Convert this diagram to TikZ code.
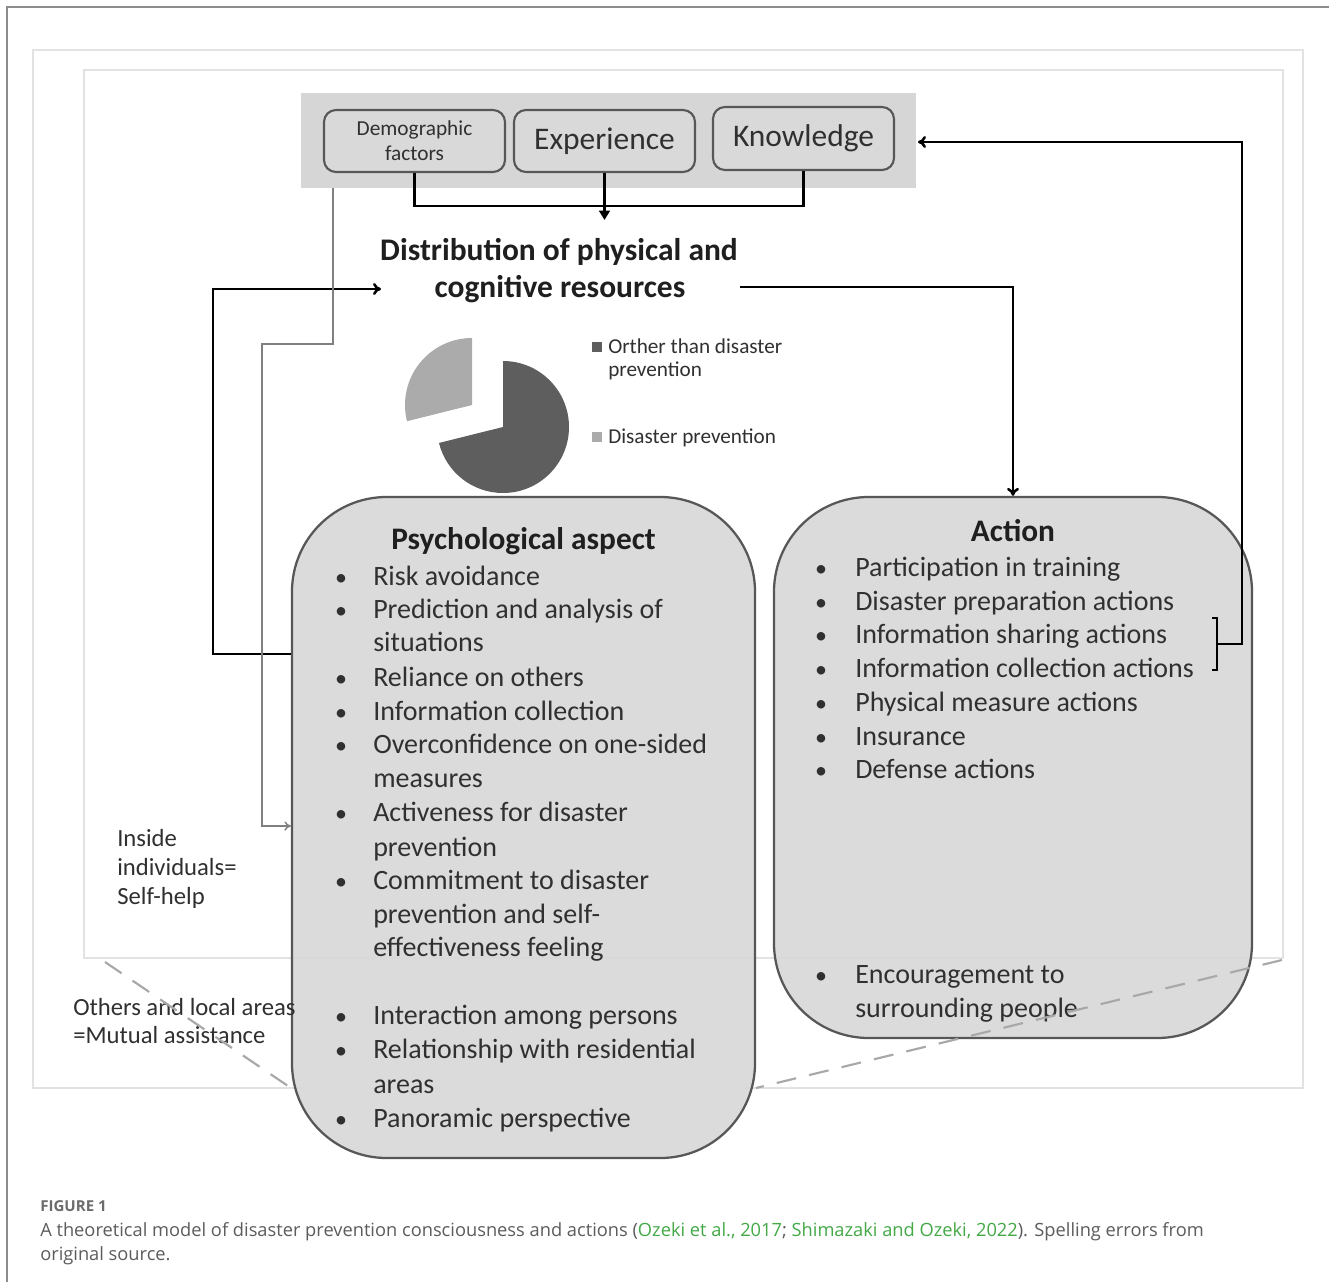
\documentclass[tikz,border=0pt]{standalone}
\usepackage{fontspec}
\setmainfont{Carlito}
\newfontfamily\capfont{Open Sans}
\usetikzlibrary{arrows.meta}
\definecolor{framegray}{HTML}{E2E2E2}
\definecolor{boxfill}{HTML}{D9D9D9}
\definecolor{bandfill}{HTML}{D6D6D6}
\definecolor{edgegray}{HTML}{575757}
\definecolor{linegray}{HTML}{808080}
\definecolor{piedark}{HTML}{5E5E5E}
\definecolor{pielight}{HTML}{ABABAB}
\definecolor{txtgray}{HTML}{303030}
\definecolor{capgray}{HTML}{5C5C5C}
\definecolor{refgreen}{HTML}{43A947}
\definecolor{dashgray}{HTML}{A8A8A8}
\begin{document}
\begin{tikzpicture}[
 x=0.75pt,y=-0.75pt,
 blk/.style={line width=1.9pt},
 gry/.style={line width=1.1pt,linegray},
 smallbox/.style={draw=edgegray,line width=1.6pt,fill=boxfill,rounded corners=9pt,
   minimum width=135.75pt,minimum height=46.5pt,inner sep=2pt,align=center,text=txtgray},
 bigbox/.style={draw=edgegray,line width=1.7pt,fill=boxfill,fill opacity=0.92,rounded corners=71pt},
 itm/.style={anchor=base west,inner sep=0pt,font=\fontsize{21}{24}\selectfont,text=txtgray},
 dot/.style={anchor=base,inner sep=0pt,font=\fontsize{18}{22}\selectfont,text=txtgray},
 lbl/.style={anchor=base west,inner sep=0pt,font=\fontsize{18.5}{22}\selectfont,text=txtgray},
 hd/.style={anchor=base,inner sep=0pt,text=black!88}
]
\useasboundingbox (0,0) rectangle (1329,1282);
\fill[white] (0,0) rectangle (1329,1282);
\draw[black!45,line width=1.4pt] (7,1282) -- (7,7) -- (1329,7);
% frames
\draw[framegray,line width=2.2pt] (33,50) rectangle (1303,1088);
\draw[framegray,line width=2.2pt] (84,70) rectangle (1283,958);
% top band
\node[fill=bandfill,minimum width=461.25pt,minimum height=71.25pt,inner sep=0pt] (band) at (608.5,140.5) {};
\node[smallbox,font=\fontsize{16}{18.75}\selectfont] (demo) at (414.5,141) {Demographic\\factors};
\node[smallbox,font=\fontsize{23.6}{26}\selectfont] (expe) at (604.5,141) {Experience};
\node[smallbox,font=\fontsize{23.6}{26}\selectfont,minimum height=47.25pt] (know) at (803.5,138.5) {Knowledge};
\coordinate (join) at (604.5,206);
\coordinate (disttop) at (604.5,220);
\draw[blk] (demo.south) |- (join) -| (know.south);
\draw[blk,-{Triangle[length=7pt,width=8pt]}] (expe.south) -- (disttop);
% resources
\node[hd,font=\fontsize{23.6}{26}\bfseries] (dist) at (559,260) {Distribution of physical and};
\node[hd,font=\fontsize{23.6}{26}\bfseries] (dist2) at (560,297) {cognitive resources};
% pie
\fill[piedark] (503,427) -- ++(-90:66) arc[start angle=-90,end angle=166,radius=66] -- cycle;
\fill[pielight] (472,405) -- ++(166:67) arc[start angle=166,end angle=270,radius=67] -- cycle;
\fill[piedark] (592,342) rectangle (602,352);
\fill[pielight] (592,432) rectangle (602,442);
\node[anchor=base west,inner sep=0pt,font=\fontsize{15.9}{18}\selectfont,text=txtgray] (leg1) at (608,353) {Orther than disaster};
\node[anchor=base west,inner sep=0pt,font=\fontsize{15.9}{18}\selectfont,text=txtgray] (leg1b) at (608,376) {prevention};
\node[anchor=base west,inner sep=0pt,font=\fontsize{15.9}{18}\selectfont,text=txtgray] (leg2) at (608,443) {Disaster prevention};
% boxes
\node[bigbox,minimum width=347.25pt,minimum height=495.75pt] (psy) at (523.5,827.5) {};
\node[bigbox,minimum width=358.5pt,minimum height=405.75pt] (act) at (1013,767.5) {};
\node[hd,font=\fontsize{23.5}{26}\bfseries] (psyhd) at (523.5,549) {Psychological aspect};
\node[hd,font=\fontsize{23.5}{26}\bfseries] (acthd) at (1013,541) {Action};
\foreach \y/\b/\t in {585/1/Risk avoidance,618/1/Prediction and analysis of,651/0/situations,
  686/1/Reliance on others,720/1/Information collection,753/1/Overconfidence on one-sided,
  787/0/measures,821/1/Activeness for disaster,856/0/prevention,889/1/Commitment to disaster,
  923/0/prevention and self-,956/0/effectiveness feeling,1024/1/Interaction among persons,
  1058/1/Relationship with residential,1093/0/areas,1127/1/Panoramic perspective}{
  \node[itm] (psy-\y) at (373,\y) {\t};
  \ifnum\b=1 \node[dot] (psyb-\y) at (341,\y) {\textbullet};\fi
}
\foreach \y/\b/\t in {576/1/Participation in training,610/1/Disaster preparation actions,
  643/1/Information sharing actions,677/1/Information collection actions,
  711/1/Physical measure actions,745/1/Insurance,778/1/Defense actions,
  983/1/Encouragement to,1017/0/surrounding people}{
  \node[itm] (act-\y) at (855,\y) {\t};
  \ifnum\b=1 \node[dot] (actb-\y) at (821,\y) {\textbullet};\fi
}
% arrows
\coordinate (lp) at (213,654);
\coordinate (din) at (381,289);
\draw[blk,-{To[length=6pt,width=9pt]}] (psy.west |- lp) -- (lp) |- (din);
\coordinate (dout) at (740,287);
\draw[blk,-{To[length=6pt,width=9pt]}] (dout) -| (act.north);
\draw[blk,line width=1.5pt] (1212,618) -- (1217,618) -- (1217,670) -- (1212,670);
\coordinate (brk) at (1217,644);
\coordinate (kin) at (918,142);
\draw[blk,-{To[length=6pt,width=9pt]}] (brk) -- (1242,644) |- (kin);
\coordinate (g1) at (333,188);
\coordinate (g2) at (262,344);
\coordinate (gin) at (291,826);
\draw[gry,-{To[length=5pt,width=7pt]}] (g1) |- (g2) |- (gin);
% labels
\node[lbl] (self1) at (117,846) {Inside};
\node[lbl] (self2) at (117,875) {individuals=};
\node[lbl] (self3) at (117,904) {Self-help};
\node[lbl] (mut1) at (73,1015) {Others and local areas};
\node[lbl] (mut2) at (73,1043) {=Mutual assistance};
\draw[dashgray,line width=1.6pt,dash pattern=on 15pt off 10pt] (105,962) -- (291,1088);
\draw[dashgray,line width=1.6pt,dash pattern=on 15pt off 10pt] (1282,960) -- (756,1088);
% caption
\node[anchor=base west,inner sep=0pt,font=\capfont\bfseries\fontsize{11.3}{13}\selectfont,text=capgray!90] (fig) at (40,1211) {FIGURE 1};
\node[anchor=base west,inner sep=0pt,font=\capfont\fontsize{13.7}{16}\selectfont,text=capgray] (cap1) at (40,1236) {A theoretical model of disaster prevention consciousness and actions (\textcolor{refgreen}{Ozeki et al., 2017}; \textcolor{refgreen}{Shimazaki and Ozeki, 2022}). Spelling errors from};
\node[anchor=base west,inner sep=0pt,font=\capfont\fontsize{13.7}{16}\selectfont,text=capgray] (cap2) at (40,1260) {original source.};
\end{tikzpicture}
\end{document}
